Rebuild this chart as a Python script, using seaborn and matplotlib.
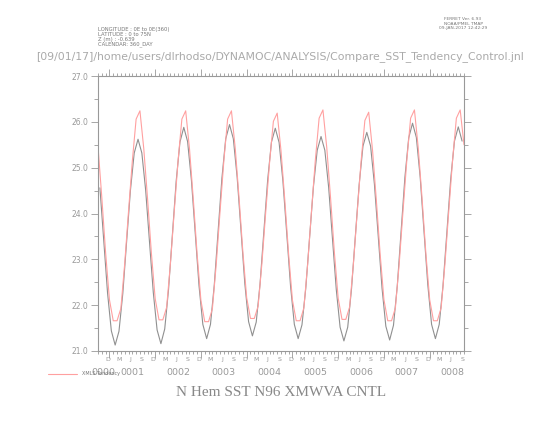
import numpy as np
import pandas as pd
import matplotlib
matplotlib.use("Agg")
import matplotlib.pyplot as plt
import seaborn as sns

# Monthly data, first month = Oct 0000 (96 months of control run)
control_sst = [24.56, 23.42, 22.27, 21.44,
               21.13, 21.43, 22.25, 23.38, 24.50, 25.32, 25.62, 25.32, 24.51, 23.39, 22.28, 21.46,
               21.16, 21.48, 22.34, 23.52, 24.70, 25.56, 25.88, 25.57, 24.73, 23.58, 22.42, 21.58,
               21.27, 21.58, 22.44, 23.61, 24.77, 25.63, 25.94, 25.63, 24.79, 23.64, 22.48, 21.64,
               21.33, 21.63, 22.46, 23.60, 24.73, 25.56, 25.86, 25.55, 24.71, 23.57, 22.42, 21.58,
               21.27, 21.57, 22.37, 23.48, 24.58, 25.38, 25.68, 25.38, 24.57, 23.45, 22.34, 21.52,
               21.22, 21.52, 22.36, 23.50, 24.63, 25.47, 25.77, 25.47, 24.64, 23.51, 22.37, 21.54,
               21.24, 21.56, 22.42, 23.61, 24.79, 25.65, 25.97, 25.66, 24.80, 23.62, 22.45, 21.58,
               21.27, 21.58, 22.43, 23.58, 24.74, 25.58, 25.89, 25.58]

# XMLS tendency run, values at month boundaries (97 points)
tendency_sst = [25.46, 24.35, 23.14, 22.12,
                21.66, 21.66, 21.93, 22.90, 24.04, 25.14, 26.06, 26.24, 25.42, 24.32, 23.14, 22.14,
                21.68, 21.68, 21.95, 22.91, 24.05, 25.15, 26.06, 26.24, 25.41, 24.31, 23.11, 22.10,
                21.64, 21.64, 21.92, 22.88, 24.03, 25.14, 26.06, 26.24, 25.42, 24.34, 23.16, 22.16,
                21.71, 21.71, 21.98, 22.92, 24.04, 25.11, 26.01, 26.19, 25.37, 24.29, 23.11, 22.11,
                21.66, 21.66, 21.94, 22.90, 24.05, 25.16, 26.08, 26.26, 25.44, 24.34, 23.15, 22.15,
                21.69, 21.69, 21.96, 22.91, 24.04, 25.13, 26.03, 26.21, 25.39, 24.30, 23.12, 22.12,
                21.66, 21.66, 21.94, 22.90, 24.05, 25.16, 26.08, 26.26, 25.43, 24.33, 23.13, 22.12,
                21.66, 21.66, 21.94, 22.90, 24.05, 25.16, 26.08, 26.26, 25.50]

month_letters = ["D", "M", "J", "S"]
year_labels = ["0000", "0001", "0002", "0003", "0004", "0005", "0006", "0007", "0008"]
y_ticks = [21.0, 22.0, 23.0, 24.0, 25.0, 26.0, 27.0]

ctl = pd.DataFrame({"month": np.arange(len(control_sst)) + 0.5, "sst": control_sst})
ten = pd.DataFrame({"month": np.arange(len(tendency_sst)), "sst": tendency_sst})

sns.set_theme(style="white")
plt.rcParams['font.family'] = ['DejaVu Sans']

W, H = 554, 428
fig = plt.figure(figsize=(W / 100, H / 100), dpi=100)
ax = fig.add_axes([98 / W, 1 - 351 / H, 366 / W, 275 / H])

grey = '#999999'
sns.lineplot(data=ctl, x="month", y="sst", ax=ax, color='#909090', lw=0.8)
sns.lineplot(data=ten, x="month", y="sst", ax=ax, color='#ffa0a0', lw=0.8)

ax.set_xlim(0, 96)
ax.set_ylim(21, 27)
ax.set_xlabel("")
ax.set_ylabel("")

for s in ax.spines.values():
    s.set_color(grey)
    s.set_linewidth(0.8)

# y axis
ax.set_yticks(y_ticks)
ax.set_yticklabels([f"{v:.1f}" for v in y_ticks], fontsize=5.5, color=grey)
ax.set_yticks(np.arange(21.5, 27, 1.0), minor=True)
ax.tick_params(axis='y', which='major', direction='out', length=5, width=0.6, color=grey,
               left=True, right=True, pad=2)
ax.tick_params(axis='y', which='minor', direction='out', length=3, width=0.6, color=grey,
               left=True, right=True)

# x axis: month ticks, year ticks at Jan 1
ax.set_xticks(np.arange(3, 96, 12))
ax.set_xticks(np.arange(0, 97, 1), minor=True)
ax.set_xticklabels([])
ax.tick_params(axis='x', which='major', direction='out', length=5, width=0.6, color=grey,
               bottom=True, top=True)
ax.tick_params(axis='x', which='minor', direction='out', length=2.5, width=0.6, color=grey,
               bottom=True, top=True)

trans = ax.get_xaxis_transform()
for yr in range(8):
    for k, lab in enumerate(month_letters):
        ax.text(12 * yr + 2.5 + 3 * k, -0.032, lab, transform=trans, ha='center', va='center',
                fontsize=4.5, color=grey)
ax.text(1.5, -0.078, year_labels[0], transform=trans, ha='center', va='center',
        fontsize=6.8, color=grey)
for yr in range(1, 9):
    ax.text(12 * yr - 3, -0.078, year_labels[yr], transform=trans, ha='center', va='center',
            fontsize=6.8, color=grey)

# header texts
hdr = ["LONGITUDE : 0E to 0E(360)", "LATITUDE : 0 to 75N", "Z (m) : -0.639", "CALENDAR: 360_DAY"]
for i, t in enumerate(hdr):
    fig.text(98 / W, 1 - (29.5 + 5 * i) / H, t, fontsize=3.8, color='#777777', va='center')
ferret = ["FERRET Ver. 6.93", "NOAA/PMEL TMAP", "09-JAN-2017 12:42:29"]
for i, t in enumerate(ferret):
    fig.text(463 / W, 1 - (19.5 + 4.5 * i) / H, t, fontsize=3.2, color='#777777',
             ha='center', va='center')

fig.text(280 / W, 1 - 57 / H,
         "[09/01/17]/home/users/dlrhodso/DYNAMOC/ANALYSIS/Compare_SST_Tendency_Control.jnl",
         ha='center', va='center', fontsize=7.8, color='#aaaaaa')

fig.text(281 / W, 1 - 393 / H, "N Hem SST N96 XMWVA CNTL", ha='center', va='center',
         fontsize=11, color='#888888', family='Liberation Serif')

# legend
fig.add_artist(plt.Line2D([48 / W, 77 / W], [1 - 374 / H, 1 - 374 / H], color='#ffa0a0', lw=0.8))
fig.text(82 / W, 1 - 374 / H, "XMLS Tendency", fontsize=3.5, color='#777777', va='center')

fig.savefig("out.png", dpi=100, facecolor='white')
